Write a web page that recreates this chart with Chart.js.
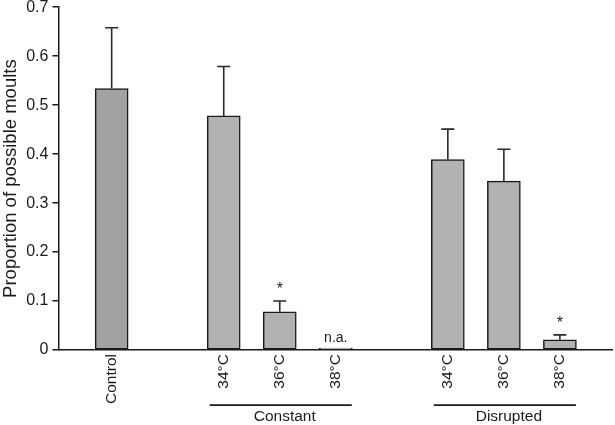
<!DOCTYPE html>
<html>
<head>
<meta charset="utf-8">
<script src="https://cdn.jsdelivr.net/npm/chart.js@4/dist/chart.umd.min.js"></script>
<style>
  body { margin: 0; background: #fff; }
  #wrap { width: 615px; height: 425px; }
</style>
</head>
<body>
<div id="wrap"><canvas id="myChart"></canvas></div>
<script>
// Moult proportions by temperature treatment

const categories = ['Control', '', '34°C', '36°C', '38°C', '', '34°C', '36°C', '38°C'];
const proportions = [0.534, null, 0.478, 0.078, 0.004, null, 0.389, 0.345, 0.021];
const errorsUp = [0.124, null, 0.101, 0.022, null, null, 0.062, 0.065, 0.010];
const marks = [null, null, null, '*', 'n.a.', null, null, null, '*'];
const groupNames = ['Constant', 'Disrupted'];
const groupFrom = [2, 6];
const groupTo = [4, 8];
const yTicks = [0, 0.1, 0.2, 0.3, 0.4, 0.5, 0.6, 0.7];

const ink = '#1a1a1a';
const font = '"Liberation Sans", Arial, sans-serif';
const barPoints = [];
const barFill = [];
categories.forEach((c, i) => {
    if (proportions[i] === null) return;
    barPoints.push({ x: i, y: proportions[i] });
    barFill.push(i === 0 ? '#a2a2a2' : '#b2b2b2');
});

// draws error bars, asterisks and the group brackets
const extras = {
    id: 'extras',
    afterDatasetsDraw(chart) {
        const ctx = chart.ctx;
        const x = chart.scales.x;
        const y = chart.scales.y;
        ctx.save();
        ctx.strokeStyle = '#2a2a2a';
        ctx.lineWidth = 1.6;
        ctx.fillStyle = ink;
        ctx.textAlign = 'center';
        ctx.textBaseline = 'bottom';
        proportions.forEach((v, i) => {
            if (v === null) return;
            const px = x.getPixelForValue(i);
            let top = y.getPixelForValue(v);
            if (errorsUp[i]) {
                top = y.getPixelForValue(v + errorsUp[i]);
                ctx.beginPath();
                ctx.moveTo(px, y.getPixelForValue(v));
                ctx.lineTo(px, top);
                ctx.moveTo(px - 6.5, top);
                ctx.lineTo(px + 6.5, top);
                ctx.stroke();
            }
            if (marks[i] === '*') {
                ctx.font = '16px ' + font;
                ctx.fillText('*', px, top - 3);
            } else if (marks[i]) {
                ctx.font = '14px ' + font;
                ctx.fillText(marks[i], px, top - 3);
            }
        });
        // group brackets under the tick labels
        const lineY = chart.chartArea.bottom + 55;
        ctx.strokeStyle = ink;
        ctx.lineWidth = 1.8;
        ctx.textBaseline = 'top';
        ctx.font = '15.5px ' + font;
        groupNames.forEach((name, g) => {
            const x0 = x.getPixelForValue(groupFrom[g]) - 14;
            const x1 = x.getPixelForValue(groupTo[g]) + 16;
            ctx.beginPath();
            ctx.moveTo(x0, lineY);
            ctx.lineTo(x1, lineY);
            ctx.stroke();
            ctx.fillText(name, (x0 + x1) / 2 + 4, lineY + 4);
        });
        ctx.restore();
    }
};

function createChart() {
    const ctx = document.getElementById('myChart');
    new Chart(ctx, {
        type: 'bar',
        data: {
            datasets: [{
                data: barPoints,
                backgroundColor: barFill,
                borderColor: ink,
                borderWidth: 1.5,
                borderSkipped: false,
                barThickness: 33
            }]
        },
        options: {
            responsive: true,
            maintainAspectRatio: false,
            animation: false,
            layout: { padding: { top: 0, right: 3, bottom: 17, left: 0 } },
            plugins: {
                legend: { display: false },
                tooltip: { enabled: false }
            },
            scales: {
                x: {
                    type: 'linear',
                    min: -0.95,
                    max: 8.93,
                    offset: false,
                    afterBuildTicks: scale => {
                        scale.ticks = categories.map((c, i) => ({ value: i })).filter(t => categories[t.value] !== '');
                    },
                    grid: { display: false, drawTicks: false },
                    border: { color: ink, width: 1.5 },
                    ticks: {
                        autoSkip: false,
                        minRotation: 90,
                        maxRotation: 90,
                        padding: 4,
                        color: ink,
                        font: { family: font, size: 15.5 },
                        callback: v => categories[v]
                    }
                },
                y: {
                    min: 0,
                    max: 0.7,
                    afterBuildTicks: scale => { scale.ticks = yTicks.map(v => ({ value: v })); },
                    grid: { drawOnChartArea: false, drawTicks: true, tickLength: 6, color: ink, lineWidth: 1.5 },
                    border: { color: ink, width: 1.5 },
                    ticks: {
                        padding: 4,
                        color: ink,
                        font: { family: font, size: 16, lineHeight: 0.4 },
                        callback: v => v === 0 ? '0' : v.toFixed(1)
                    },
                    title: {
                        display: true,
                        text: 'Proportion of possible moults',
                        color: ink,
                        padding: { top: 0, bottom: 0 },
                        font: { family: font, size: 18.5 }
                    }
                }
            }
        },
        plugins: [extras]
    });
}
createChart();
</script>
</body>
</html>
